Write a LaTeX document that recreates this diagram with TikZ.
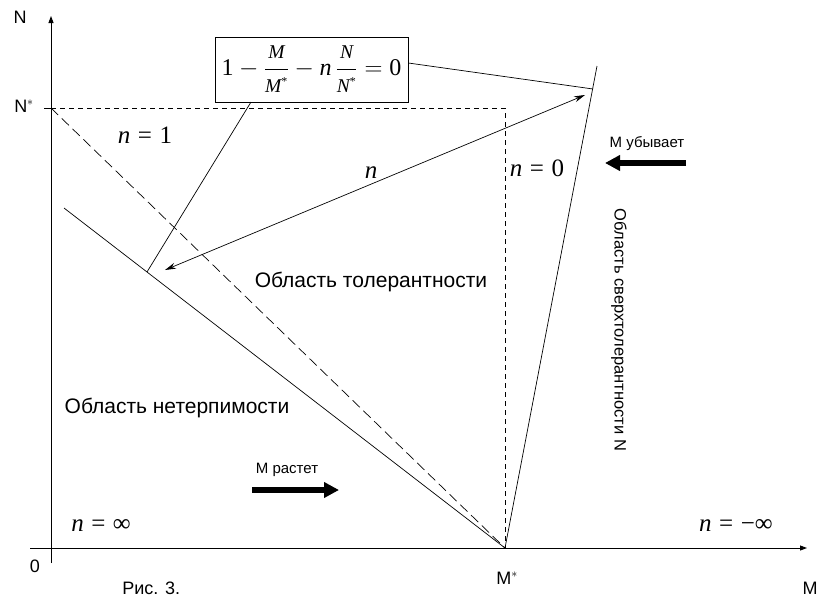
\documentclass[tikz,border=0pt]{standalone}
\usepackage{amsmath}
\usepackage{fontspec}
\setmainfont{Liberation Sans}
\newfontfamily\tms{Liberation Serif}
\usetikzlibrary{arrows.meta}
\newcommand\fl[1]{\mbox{\fontsize{19.5}{20}\selectfont\tms\itshape #1}}
\newcommand\fst{\mbox{\fontsize{12}{12}\selectfont\tms *}}
\newcommand\eqs{\hspace{0.3em}}
\begin{document}
\begin{tikzpicture}[x=1pt,y=-1pt,line width=0.7pt,
  lbl/.style={font=\fontsize{21}{23}\selectfont,inner sep=0pt},
  axl/.style={font=\fontsize{18}{20}\selectfont,inner sep=0pt},
  small/.style={font=\fontsize{15}{16}\selectfont,inner sep=0pt},
  mth/.style={font=\fontsize{25}{27}\selectfont\tms,inner sep=0pt},
  thick arrow/.style={line width=5.5pt,-{Triangle[length=15pt,width=15pt]}},
  axis/.style={line width=0.9pt,-{Triangle[length=7pt,width=5pt]}}]
\useasboundingbox (0,0) rectangle (817,600);
% key points
\coordinate (Otop) at (51,16);
\coordinate (Obot) at (51,563);
\coordinate (Xl) at (30,548);
\coordinate (Xr) at (807,548);
\coordinate (Ns) at (51,108);
\coordinate (Ms) at (505,548);
\coordinate (C) at (505,108);
\coordinate (S1) at (64,208);
\coordinate (T) at (597,66);
\coordinate (Tm) at (593,89);
\coordinate (Bt) at (251,102);
\coordinate (Fl) at (147,272);
\coordinate (Al) at (165,270);
\coordinate (Ar) at (585,95);
% axes
\draw[axis] (Obot) -- (Otop);
\draw[axis] (Xl) -- (Xr);
\draw (44,108) -- (Ns);
% dashed
\draw[dash pattern=on 5pt off 4pt] (Ns) -- (C) -- (Ms);
\draw[dash pattern=on 10pt off 5pt] (Ns) -- (Ms);
% solid lines
\draw (S1) -- (Ms) -- (T);
% formula box
\node[draw,font=\fontsize{24}{26}\selectfont\tms,minimum width=193pt,minimum height=65pt,inner sep=0pt] (eq) at (311.5,69.5)
 {$\mbox{\tms 1}-\dfrac{\fl{M}}{\fl{M}^{\fst}}-\mbox{\tms\itshape n}\,\dfrac{\fl{N}}{\fl{N}^{\fst}}=\mbox{\tms 0}$};
\draw (eq.east |- 0,63) -- (Tm);
\draw (Bt) -- (Fl);
\draw[{Stealth[length=11pt,width=6pt]}-{Stealth[length=11pt,width=6pt]}] (Al) -- (Ar);
% math labels
\node[mth] (n1) at (145,135) {\itshape n\upshape\eqs=\eqs 1};
\node[mth] (nn) at (371,173) {\itshape n};
\node[mth] (n0) at (537,168) {\itshape n\upshape\eqs=\eqs 0};
\node[mth] (ninf) at (101,525) {\itshape n\upshape\eqs=\eqs ∞};
\node[mth] (nminf) at (736,525) {\itshape n\upshape\eqs=\eqs −∞};
% text labels
\node[lbl] (tol) at (371,282) {Область толерантности};
\node[lbl] (net) at (177,408) {Область нетерпимости};
\node[font=\fontsize{16.5}{18}\selectfont,inner sep=0pt,rotate=-90] (sv) at (619,330) {Область сверхтолерантности N};
\node[small] (mub) at (647,144) {M убывает};
\draw[thick arrow] (686,163) -- (605,163);
\node[small] (mra) at (287,470) {M растет};
\draw[thick arrow] (252,490) -- (339,490);
% axis labels
\node[axl] (Nl) at (20,17) {N};
\node[axl] (Nsl) at (24,106) {N$^{*}$};
\node[axl] (zero) at (35,566) {0};
\node[axl] (Msl) at (507,578) {M$^{*}$};
\node[axl] (Ml) at (810,588) {M};
\node[axl,anchor=west] (fig) at (122,588) {Рис. 3.};
\end{tikzpicture}
\end{document}
